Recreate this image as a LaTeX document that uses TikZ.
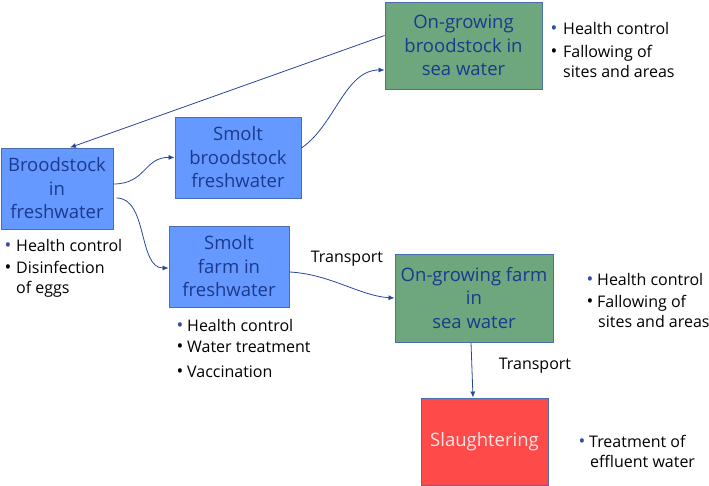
\documentclass[tikz,border=0pt]{standalone}
\usepackage{fontspec}
\setmainfont{Open Sans}
\usetikzlibrary{arrows.meta}
\definecolor{bluefill}{HTML}{6699FF}
\definecolor{greenfill}{HTML}{6EA67E}
\definecolor{redfill}{HTML}{FF4A4A}
\definecolor{boxline}{HTML}{4A6DB0}
\definecolor{boxtext}{HTML}{1A3A8E}
\definecolor{arrowc}{HTML}{28479A}
\definecolor{bulblue}{HTML}{2A4FA8}
\definecolor{pinktext}{HTML}{FFE4E4}
\tikzset{
  stage/.style={draw=boxline, line width=0.9pt, align=center, text=boxtext,
    font=\fontsize{18.5}{23.5}\selectfont, inner sep=0pt},
  bluebox/.style={stage, fill=bluefill},
  greenbox/.style={stage, fill=greenfill},
  redbox/.style={stage, fill=redfill, text=pinktext},
  item/.style={anchor=base west, inner sep=0pt, font=\fontsize{16}{18}\selectfont},
  dot/.style={anchor=base, inner sep=0pt, font=\fontsize{18}{18}\selectfont},
  flow/.style={draw=arrowc, line width=0.8pt, -{Latex[length=6pt,width=5pt]}},
  lbl/.style={inner sep=0pt, font=\fontsize{16}{18}\selectfont}
}
\begin{document}
\begin{tikzpicture}[x=1pt,y=-1pt]
\useasboundingbox (0,0) rectangle (709,486);
% boxes
\node[bluebox, minimum width=112pt, minimum height=81pt] (bf) at (57,188.5) {Broodstock\\in\\freshwater};
\node[bluebox, minimum width=126pt, minimum height=81pt] (sb) at (238,157.5) {Smolt\\broodstock\\freshwater};
\node[bluebox, minimum width=120pt, minimum height=81pt] (sf) at (229,266.5) {Smolt\\farm in\\freshwater};
\node[greenbox, minimum width=157pt, minimum height=87pt] (ob) at (463.5,45.5) {On-growing\\broodstock in\\sea water};
\node[greenbox, minimum width=158pt, minimum height=88pt] (of) at (474,298) {On-growing farm\\in\\sea water};
\node[redbox, minimum width=127pt, minimum height=87pt] (sl) at (484.5,441.5) {Slaughtering};
% connectors
\draw[flow] ([yshift=10pt]ob.west) -- ([xshift=13pt]bf.north);
\draw[flow] ([yshift=4.5pt]bf.east) .. controls (146,184) and (144,157) .. (sb.west);
\draw[flow] ([xshift=3pt,yshift=-9.5pt]bf.east) .. controls (148,198) and (138,268) .. ([yshift=-1.5pt]sf.west);
\draw[flow] ([yshift=9.5pt]sb.east) .. controls (335,125) and (345,70) .. ([yshift=-24.5pt]ob.west);
\draw[flow] ([yshift=-5.5pt]sf.east) .. controls (330,274) and (360,296) .. (of.west);
\draw[flow] ([xshift=-3pt]of.south) -- ([xshift=-11.5pt]sl.north);
\node[lbl] (t1) at (347,259) {Transport};
\node[lbl] (t2) at (535,366) {Transport};
% bullet lists
\node[dot, text=bulblue] (b1a) at (8,252) {•};
\node[item] (i1a) at (16,252) {Health control};
\node[dot] (b1b) at (8,273) {•};
\node[item] (i1b) at (16,273) {Disinfection};
\node[item] (i1c) at (16,294) {of eggs};
\node[dot, text=bulblue] (b2a) at (180,331) {•};
\node[item] (i2a) at (187,331) {Health control};
\node[dot] (b2b) at (180,352) {•};
\node[item] (i2b) at (187,352) {Water treatment};
\node[dot] (b2c) at (180,377) {•};
\node[item] (i2c) at (187,377) {Vaccination};
\node[dot, text=bulblue] (b3a) at (554,35) {•};
\node[item] (i3a) at (563,35) {Health control};
\node[dot] (b3b) at (554,58) {•};
\node[item] (i3b) at (563,58) {Fallowing of};
\node[item] (i3c) at (563,78) {sites and areas};
\node[dot, text=bulblue] (b4a) at (590,285) {•};
\node[item] (i4a) at (597,285) {Health control};
\node[dot] (b4b) at (590,307) {•};
\node[item] (i4b) at (597,307) {Fallowing of};
\node[item] (i4c) at (598,327) {sites and areas};
\node[dot, text=bulblue] (b5a) at (582,447) {•};
\node[item] (i5a) at (589,447) {Treatment of};
\node[item] (i5b) at (590,467) {effluent water};
\end{tikzpicture}
\end{document}
